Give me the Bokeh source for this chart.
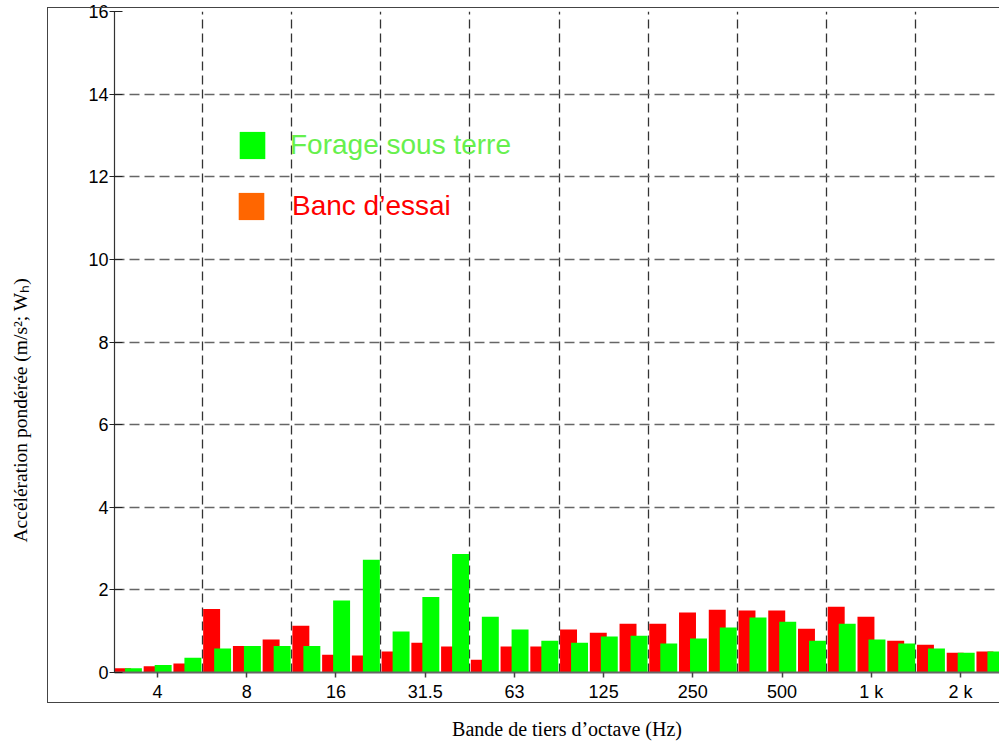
from bokeh.plotting import figure
from bokeh.models import FixedTicker, Legend, LegendItem, LinearAxis, ColumnDataSource
from bokeh.transform import dodge
from bokeh.embed import file_html
from bokeh.resources import INLINE

# Third-octave bands (Hz)
bands = ["3.15", "4", "5", "6.3", "8", "10", "12.5", "16", "20", "25",
         "31.5", "40", "50", "63", "80", "100", "125", "160", "200", "250",
         "315", "400", "500", "630", "800", "1k", "1.25k", "1.6k", "2k", "2.5k"]

# Banc d'essai (red bars), m/s^2 weighted Wh
banc = [0.10, 0.15, 0.22, 1.54, 0.64, 0.80, 1.13, 0.43, 0.41, 0.51,
        0.72, 0.63, 0.31, 0.63, 0.63, 1.04, 0.96, 1.18, 1.18, 1.45,
        1.52, 1.50, 1.50, 1.06, 1.59, 1.35, 0.77, 0.67, 0.48, 0.51]

# Forage sous terre (green bars)
forage = [0.10, 0.18, 0.36, 0.58, 0.64, 0.64, 0.64, 1.74, 2.73, 0.99,
          1.83, 2.87, 1.35, 1.04, 0.77, 0.72, 0.87, 0.89, 0.70, 0.82,
          1.09, 1.33, 1.23, 0.77, 1.18, 0.80, 0.70, 0.58, 0.48, 0.51]

# Labelled bands on the x axis
tick_bands = ["4", "8", "16", "31.5", "63", "125", "250", "500", "1k", "2k"]
tick_labels = ["4", "8", "16", "31.5", "63", "125", "250", "500", "1 k", "2 k"]

y_ticks = [0, 2, 4, 6, 8, 10, 12, 14, 16]

x_title = "Bande de tiers d\u2019octave (Hz)"
y_title = "Acc\u00e9l\u00e9ration pond\u00e9r\u00e9e (m/s\u00b2; W\u2095)"
series_names = ["Forage sous terre", "Banc d\u2019essai"]

idx = list(range(len(bands)))
tick_pos = [bands.index(b) for b in tick_bands]
grid_pos = [t + 1.5 for t in tick_pos]

src = ColumnDataSource(dict(x=idx, band=bands, banc=banc, forage=forage))
key_src = ColumnDataSource(dict(x=idx[:1], top=[0]))

frame_css = """
:host { position: relative; }
:host::after {
  content: ""; position: absolute; left: 47px; top: 7px;
  width: 952px; height: 696px; box-sizing: border-box;
  border: 1.5px solid #444444; border-right: none; pointer-events: none;
}
"""

p = figure(width=999, height=742, x_range=(-0.446, 29.31), y_range=(0, 16),
           toolbar_location=None, output_backend="svg",
           min_border_left=114, min_border_right=0, min_border_top=11,
           min_border_bottom=68, stylesheets=[frame_css])
p.outline_line_color = None
p.background_fill_color = "white"
p.border_fill_color = "white"

r_banc = p.vbar(x=dodge("x", -0.18, range=p.x_range), top="banc", width=0.57,
                source=src, fill_color="#FF0000", line_color=None)
r_for = p.vbar(x=dodge("x", 0.19, range=p.x_range), top="forage", width=0.57,
               source=src, fill_color="#00FF00", line_color=None)
# legend key for the test-bench series (orange square)
r_key = p.vbar(x="x", top="top", width=0.5, source=key_src,
               fill_color="#FF6600", line_color=None)

# Axes
xa = p.xaxis[0]
xa.ticker = FixedTicker(ticks=tick_pos)
xa.major_label_overrides = {t: l for t, l in zip(tick_pos, tick_labels)}
xa.minor_tick_line_color = None
xa.major_tick_out = 5
xa.major_tick_in = 0
xa.major_tick_line_color = "#444444"
xa.major_tick_line_width = 1.5
xa.axis_line_color = "#666666"
xa.axis_line_width = 2
xa.major_label_standoff = 4
xa.major_label_text_font = "Liberation Sans"
xa.major_label_text_font_size = "18px"
xa.major_label_text_color = "black"

ya = p.yaxis[0]
ya.ticker = FixedTicker(ticks=y_ticks)
ya.minor_tick_line_color = None
ya.major_tick_out = 5
ya.major_tick_in = 8
ya.major_tick_line_color = "#222222"
ya.axis_line_color = "#333333"
ya.axis_line_width = 1.2
ya.major_label_standoff = 1
ya.major_label_text_font = "Liberation Sans"
ya.major_label_text_font_size = "18px"
ya.major_label_text_color = "black"

# Title-only outer axes; em spaces shift the visible title along the axis
EM = "\u2003"

def title_axis(text, standoff, size):
    return LinearAxis(ticker=FixedTicker(ticks=[]),
                      axis_line_color=None, major_tick_line_color=None,
                      minor_tick_line_color=None, major_tick_out=0,
                      major_tick_in=0, minor_tick_out=0, major_label_standoff=0,
                      axis_label=text, axis_label_standoff=standoff,
                      axis_label_text_font="Liberation Serif",
                      axis_label_text_font_style="normal",
                      axis_label_text_font_size=size,
                      axis_label_text_color="black")

p.add_layout(title_axis(EM + x_title, 13, "20px"), "below")
p.add_layout(title_axis(y_title + EM * 7, 55, "19.5px"), "left")

# Grids
p.xgrid.ticker = FixedTicker(ticks=grid_pos)
p.xgrid.grid_line_color = "#333333"
p.xgrid.grid_line_width = 1.3
p.xgrid.grid_line_dash = "9 5"
p.ygrid.grid_line_color = "#666666"
p.ygrid.grid_line_width = 1.5
p.ygrid.grid_line_dash = "10 5"

# Legends (one per entry so the label colours can differ)
def make_legend(label, renderer, color, loc, standoff):
    lg = Legend(items=[LegendItem(label=label, renderers=[renderer])],
                location=loc, padding=0, margin=0, spacing=0,
                glyph_width=32, glyph_height=34, label_height=27,
                label_standoff=standoff, border_line_color=None,
                background_fill_alpha=0,
                label_text_font="Liberation Sans",
                label_text_font_size="28px", label_text_color=color)
    p.add_layout(lg, "center")

make_legend(series_names[0], r_for, "#66F04D", (122, 510), 22)
make_legend(series_names[1], r_key, "#FF0000", (121, 449), 25)

open("out.html", "w").write(file_html(p, INLINE))
